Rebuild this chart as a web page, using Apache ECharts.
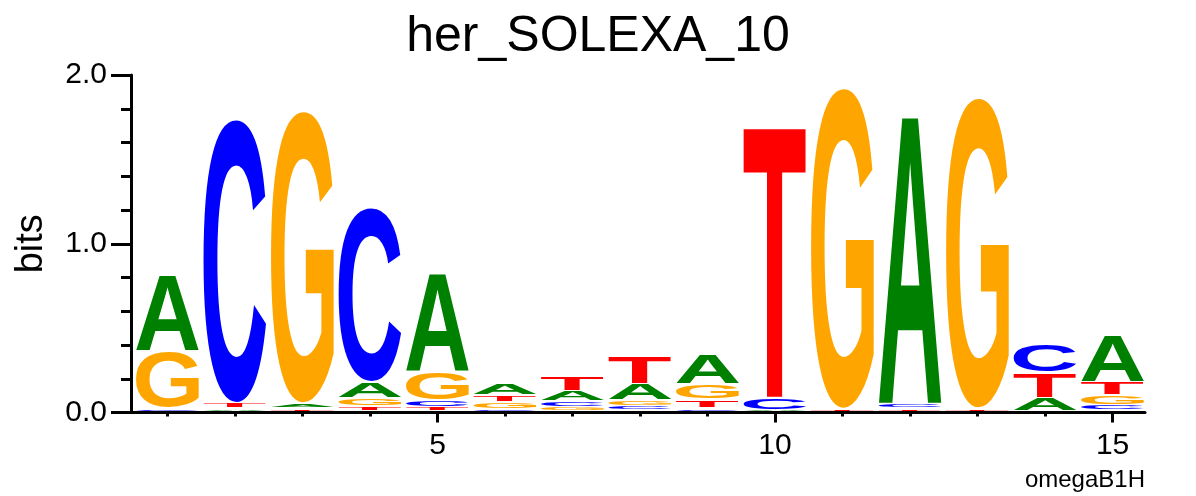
<!DOCTYPE html>
<html>
<head>
<meta charset="utf-8">
<script src="https://cdn.jsdelivr.net/npm/echarts@6/dist/echarts.min.js"></script>
<style>
  html, body { margin: 0; padding: 0; background: #fff; }
  #chart { width: 1196px; height: 496px; }
</style>
</head>
<body>
<div id="chart"></div>
<script>
// her_SOLEXA_10 sequence logo, heights in bits per position
const positions = [1, 2, 3, 4, 5, 6, 7, 8, 9, 10, 11, 12, 13, 14, 15];
const bitsA = [0.46, 0.012, 0.03, 0.092, 0.588, 0.073, 0.062, 0.10, 0.178, 0.005, 0, 1.725, 0, 0.077, 0.283];
const bitsC = [0.015, 1.685, 0, 1.035, 0.041, 0.009, 0.033, 0.027, 0.015, 0.07, 0, 0.025, 0, 0.169, 0.033];
const bitsG = [0.34, 0, 1.735, 0.047, 0.166, 0.041, 0.021, 0.033, 0.089, 0, 1.905, 0, 1.845, 0, 0.059];
const bitsT = [0, 0.032, 0.012, 0.027, 0.021, 0.042, 0.089, 0.165, 0.053, 1.625, 0.01, 0.015, 0.012, 0.148, 0.079];
const yTicks = [0, 1, 2];
const xLabelTicks = [5, 10, 15];

const letterColors = { A: "#008000", C: "#0000ff", G: "#ffa500", T: "#ff0000" };
const letterBits = { A: bitsA, C: bitsC, G: bitsG, T: bitsT };
const FONT = 'bold 100px "Liberation Sans", Arial, sans-serif';

// measure glyph boxes so each letter can be stretched to fill its slot
const metrics = {};
(function () {
  const ctx = document.createElement("canvas").getContext("2d");
  ctx.font = FONT;
  ctx.textBaseline = "middle";
  ctx.textAlign = "left";
  ["A", "C", "G", "T"].forEach(L => {
    const m = ctx.measureText(L);
    metrics[L] = {
      left: m.actualBoundingBoxLeft,
      asc: m.actualBoundingBoxAscent,
      w: m.actualBoundingBoxLeft + m.actualBoundingBoxRight,
      h: m.actualBoundingBoxAscent + m.actualBoundingBoxDescent
    };
  });
})();

const chart = echarts.init(document.getElementById("chart"));

function renderColumn(params, api) {
  const idx = params.dataIndex;
  const pos = api.value(0);
  const stack = ["A", "C", "G", "T"]
    .map(L => ({ L, v: letterBits[L][idx] }))
    .filter(d => d.v > 0)
    .sort((a, b) => a.v - b.v);
  const children = [];
  let cum = 0;
  stack.forEach(d => {
    const p0 = api.coord([pos - 0.467, cum]);
    const p1 = api.coord([pos + 0.467, cum + d.v]);
    cum += d.v;
    const lift = 1.5; // sit on top of the 3px axis line
    let top = p1[1] - lift, bottom = p0[1] - lift;
    let hpx = bottom - top;
    if (hpx > 4) { top += 0.5; bottom -= 1.5; } else { top += hpx * 0.15; bottom -= hpx * 0.15; }
    hpx = Math.max(bottom - top, 0.6);
    const wpx = p1[0] - p0[0];
    const m = metrics[d.L];
    children.push({
      type: "text",
      x: p0[0],
      y: top,
      scaleX: wpx / m.w,
      scaleY: hpx / m.h,
      style: {
        text: d.L,
        x: m.left,
        y: m.asc,
        font: FONT,
        fill: letterColors[d.L],
        align: "left",
        verticalAlign: "middle"
      }
    });
  });
  return { type: "group", children };
}

const option = {
  animation: false,
  title: {
    text: "her_SOLEXA_10",
    left: "center",
    top: 7,
    textStyle: { fontFamily: "Liberation Sans", fontSize: 50, fontWeight: "normal", color: "#000" }
  },
  grid: { left: 131, top: 75, width: 1014, height: 337.5 },
  xAxis: [
    {
      type: "value",
      min: 0.46,
      max: 15.48,
      axisLine: { show: true, lineStyle: { color: "#000", width: 3 } },
      axisTick: { show: true, customValues: positions, length: 4, lineStyle: { color: "#000", width: 3 } },
      axisLabel: {
        customValues: xLabelTicks,
        margin: 18,
        color: "#000",
        fontFamily: "Liberation Sans",
        fontSize: 30
      },
      splitLine: { show: false }
    },
    {
      type: "value",
      position: "bottom",
      min: 0.46,
      max: 15.48,
      axisLine: { show: false },
      axisTick: { show: true, customValues: xLabelTicks, length: 10, lineStyle: { color: "#000", width: 3 } },
      axisLabel: { show: false },
      splitLine: { show: false }
    }
  ],
  yAxis: {
    type: "value",
    min: 0,
    max: 2,
    interval: 1,
    name: "bits",
    nameLocation: "middle",
    nameRotate: 90,
    nameGap: 80,
    nameTextStyle: { fontFamily: "Liberation Sans", fontSize: 38, color: "#000" },
    axisLine: { show: true, lineStyle: { color: "#000", width: 3 } },
    axisTick: { show: true, customValues: yTicks, length: 20, lineStyle: { color: "#000", width: 3 } },
    minorTick: { show: true, splitNumber: 5, length: 10, lineStyle: { color: "#000", width: 3 } },
    axisLabel: {
      margin: 24,
      color: "#000",
      fontFamily: "Liberation Sans",
      fontSize: 30,
      formatter: v => v.toFixed(1)
    },
    splitLine: { show: false }
  },
  graphic: [
    {
      type: "text",
      right: 51,
      top: 468,
      style: { text: "omegaB1H", font: '24px "Liberation Sans"', fill: "#000" }
    }
  ],
  series: [
    {
      type: "custom",
      xAxisIndex: 0,
      renderItem: renderColumn,
      data: positions.map(p => [p]),
      clip: false
    }
  ]
};
chart.setOption(option);
</script>
</body>
</html>
